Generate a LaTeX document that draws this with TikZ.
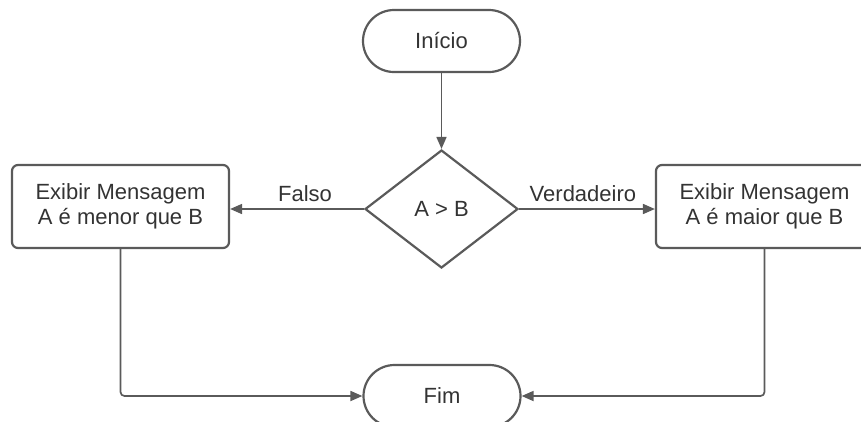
\documentclass[tikz,border=0pt]{standalone}
\usepackage{fontspec}
\setmainfont{Liberation Sans}
\usetikzlibrary{shapes.geometric,arrows.meta}
\definecolor{edgegray}{HTML}{5A5A5A}
\definecolor{ink}{HTML}{333333}
\begin{document}
\begin{tikzpicture}[x=1pt,y=-1pt,
  base/.style={draw=edgegray,line width=2.2pt,fill=white,text=ink,
    font=\fontsize{22}{25}\selectfont,align=center,inner sep=0pt},
  terminal/.style={base,rounded corners=31pt,minimum width=157pt,minimum height=62pt},
  process/.style={base,rounded corners=6pt,minimum width=217pt,minimum height=83pt},
  decision/.style={base,diamond,minimum width=153pt,minimum height=118pt},
  flow/.style={draw=edgegray,line width=1.7pt,-{Triangle[length=12pt,width=10pt]}},
  lbl/.style={text=ink,font=\fontsize{22}{25}\selectfont,inner sep=0pt,anchor=south}]
  \clip (0,0) rectangle (861,421);
  \useasboundingbox (0,0) rectangle (861,421);

  % shapes
  \node[terminal] (inicio) at (441.5,41) {Início};
  \node[decision] (dec) at (441.5,209) {A > B};
  \node[process] (menor) at (120.5,206.5) {Exibir Mensagem\\A é menor que B};
  \node[process] (maior) at (764.5,206.5) {Exibir Mensagem\\A é maior que B};
  \node[terminal] (fim) at (442,396) {Fim};

  % connectors
  \draw[flow] (inicio) -- (dec);
  \draw[flow] (dec.west) -- node[lbl,pos=0.44,yshift=6.5pt] (falso) {Falso} (dec.west -| menor.east);
  \draw[flow] (dec.east) -- node[lbl,pos=0.47,yshift=6.5pt] (verd) {Verdadeiro} (dec.east -| maior.west);
  \draw[flow,rounded corners=4pt] (menor.south) |- (fim.west);
  \draw[flow,rounded corners=4pt] (maior.south) |- (fim.east);
\end{tikzpicture}
\end{document}
